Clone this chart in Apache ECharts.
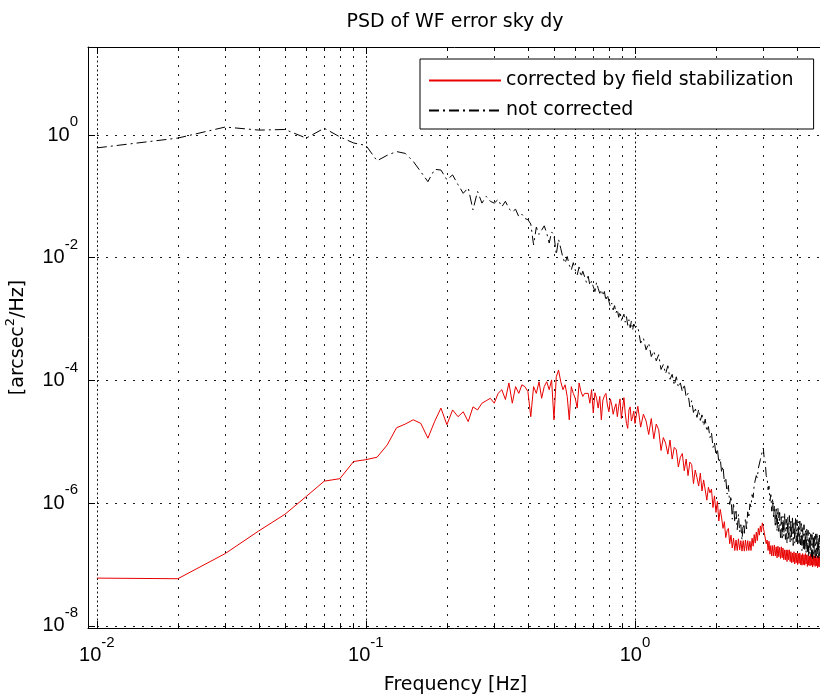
<!DOCTYPE html>
<html>
<head>
<meta charset="utf-8">
<title>PSD of WF error sky dy</title>
<script src="https://cdn.jsdelivr.net/npm/echarts@6/dist/echarts.min.js"></script>
<style>
  html, body { margin: 0; padding: 0; background: #fff; }
  #chart { width: 820px; height: 700px; }
</style>
</head>
<body>
<div id="chart"></div>
<script>
// ---- Spectrum data --------------------------------------------------------
// Frequency bins: 0.01 Hz resolution up to 1 Hz, 0.025 Hz bins from 1 to 5 Hz.
const lowBandStart = 0.01, lowBandStep = 0.01, lowBandCount = 100;
const highBandStart = 1.025, highBandStep = 0.025, highBandCount = 160;

// PSD values stored as log10 of arcsec^2/Hz.
const correctedLow = [
  -7.22,-7.23,-6.82,-6.45,-6.18,-5.89,-5.64,-5.60,-5.32,-5.29,
  -5.25,-5.05,-4.77,-4.71,-4.64,-4.70,-4.94,-4.67,-4.45,-4.72,
  -4.48,-4.59,-4.51,-4.67,-4.43,-4.48,-4.37,-4.33,-4.29,-4.37,
  -4.21,-4.15,-4.31,-4.04,-4.37,-4.10,-4.21,-4.07,-4.10,-4.18,
  -4.59,-4.10,-4.21,-4.02,-4.29,-4.10,-4.02,-4.15,-3.99,-4.64,
  -3.94,-3.83,-4.02,-4.15,-4.07,-4.26,-4.64,-4.10,-4.21,-4.29,
  -4.45,-4.04,-4.18,-4.26,-4.21,-4.18,-4.21,-4.37,-4.15,-4.53,
  -4.20,-4.29,-4.45,-4.26,-4.64,-4.32,-4.25,-4.21,-4.40,-4.51,
  -4.30,-4.40,-4.55,-4.45,-4.38,-4.59,-4.42,-4.30,-4.62,-4.62,
  -4.28,-4.53,-4.70,-4.78,-4.48,-4.43,-4.66,-4.59,-4.50,-4.70
];
const correctedHigh = [
  -4.42,-4.76,-4.55,-4.66, -4.88,-4.62,-4.95,-4.71, -4.80,-5.14,-4.93,-5.02,
  -5.20,-4.97,-5.28,-5.09, -5.13,-5.41,-5.25,-5.19, -5.47,-5.28,-5.55,-5.33,
  -5.37,-5.68,-5.46,-5.58, -5.72,-5.51,-5.80,-5.62, -5.65,-5.95,-5.74,-5.83,
  -5.77,-6.07,-5.88,-6.15, -5.97,-6.29,-6.10,-6.24, -6.41,-6.30,-6.56,-6.45,
  -6.41,-6.66,-6.52,-6.73, -6.57,-6.77,-6.60,-6.77, -6.58,-6.76,-6.61,-6.78,
  -6.61,-6.78,-6.60,-6.77, -6.61,-6.77,-6.62,-6.77, -6.57,-6.70,-6.51,-6.65,
  -6.47,-6.61,-6.41,-6.52, -6.37,-6.47,-6.32,-6.34, -6.48,-6.45,-6.66,-6.60,
  -6.77,-6.62,-6.83,-6.69, -6.86,-6.69,-6.86,-6.68, -6.86,-6.71,-6.89,-6.70,
  -6.87,-6.72,-6.90,-6.71, -6.89,-6.73,-6.92,-6.76, -6.92,-6.76,-6.95,-6.76,
  -6.92,-6.76,-6.95,-6.79, -6.97,-6.81,-6.96,-6.79, -6.99,-6.81,-6.97,-6.81,
  -7.00,-6.82,-6.98,-6.81, -7.00,-6.84,-7.01,-6.82, -7.00,-6.84,-7.01,-6.82,
  -6.99,-6.84,-7.03,-6.84, -7.01,-6.86,-7.02,-6.83, -7.01,-6.85,-7.04,-6.85,
  -7.01,-6.86,-7.03,-6.84, -7.02,-6.87,-7.05,-6.86, -7.03,-6.87,-7.04,-6.85,
  -7.02,-6.87,-7.04,-6.88
];
const uncorrectedLow = [
  -0.21,-0.05, 0.13, 0.08, 0.09,-0.05, 0.11,-0.03,-0.13,-0.17,
  -0.42,-0.33,-0.27,-0.30,-0.43,-0.60,-0.76,-0.56,-0.57,-0.73,
  -0.65,-0.81,-0.95,-0.86,-1.22,-0.92,-1.11,-1.00,-1.08,-1.11,
  -1.05,-1.17,-1.08,-1.20,-1.25,-1.21,-1.33,-1.29,-1.36,-1.38,
  -1.45,-1.79,-1.50,-1.62,-1.55,-1.48,-1.60,-1.76,-1.58,-1.63,
  -1.95,-1.70,-1.85,-2.00,-2.09,-1.98,-2.12,-2.20,-2.08,-2.20,
  -2.28,-2.15,-2.31,-2.22,-2.31,-2.40,-2.30,-2.45,-2.38,-2.47,
  -2.55,-2.40,-2.50,-2.58,-2.52,-2.62,-2.55,-2.70,-2.60,-2.71,
  -2.80,-2.74,-2.85,-2.78,-2.90,-2.84,-2.97,-2.88,-3.02,-3.01,
  -2.92,-3.05,-2.96,-3.10,-3.01,-3.14,-3.03,-3.18,-3.08,-3.12
];
const uncorrectedHigh = [
  -3.12,-3.39,-3.31,-3.50, -3.39,-3.61,-3.52,-3.68, -3.58,-3.82,-3.74,-3.89,
  -3.76,-3.98,-3.90,-4.08, -3.94,-4.11,-4.04,-4.18, -4.06,-4.27,-4.21,-4.43,
  -4.33,-4.52,-4.44,-4.60, -4.47,-4.65,-4.56,-4.74, -4.63,-4.83,-4.75,-4.93,
  -4.85,-5.09,-5.01,-5.21, -5.11,-5.34,-5.27,-5.50, -5.40,-5.66,-5.58,-5.85,
  -5.71,-6.02,-5.88,-6.26, -5.99,-6.31,-6.13,-6.43, -6.18,-6.47,-6.35,-6.60,
  -6.34,-6.49,-6.24,-6.42, -6.14,-6.24,-6.01,-6.06, -5.86,-5.91,-5.70,-5.73,
  -5.55,-5.59,-5.43,-5.45, -5.29,-5.32,-5.15,-5.10, -5.29,-5.33,-5.55,-5.59,
  -5.78,-5.72,-5.96,-5.86, -6.13,-5.92,-6.25,-6.04, -6.39,-6.06,-6.46,-6.08,
  -6.46,-6.15,-6.56,-6.22, -6.60,-6.21,-6.54,-6.16, -6.59,-6.26,-6.65,-6.21,
  -6.58,-6.20,-6.63,-6.26, -6.61,-6.21,-6.69,-6.29, -6.65,-6.24,-6.63,-6.27,
  -6.69,-6.30,-6.68,-6.29, -6.68,-6.33,-6.77,-6.38, -6.74,-6.35,-6.78,-6.43,
  -6.81,-6.42,-6.79,-6.44, -6.87,-6.48,-6.83,-6.47, -6.87,-6.51,-6.90,-6.48,
  -6.87,-6.53,-6.89,-6.50, -6.86,-6.48,-6.89,-6.55, -6.91,-6.52,-6.86,-6.50,
  -6.88,-6.53,-6.90,-6.56
];

// Axis decades (log10) carrying labels
const xLabelDecades = [-2, -1, 0];
const yLabelDecades = [0, -2, -4, -6, -8];

const titleText = 'PSD of WF error sky dy';
const xAxisTitle = 'Frequency [Hz]';
const seriesNames = ['corrected by field stabilization', 'not corrected'];

// ---- Build the log-log plot on log10-transformed value axes ---------------
const X_MIN = -2.033, X_MAX = Math.log10(5);
const Y_MIN = -8.033, Y_MAX = 1.434;

function binFreqs(start, step, count) {
  const out = [];
  for (let i = 0; i < count; i++) out.push(+(start + i * step).toFixed(4));
  return out;
}
const freqs = binFreqs(lowBandStart, lowBandStep, lowBandCount)
  .concat(binFreqs(highBandStart, highBandStep, highBandCount));

function toPoints(low, high) {
  const vals = low.concat(high);
  return vals.map((v, i) => [Math.log10(freqs[i]), v]);
}

// minor ticks at 2..9 x 10^n inside the visible frequency range
const xMinor = [];
for (let n = -3; n <= 0; n++) {
  for (let k = 2; k <= 9; k++) {
    const p = Math.log10(k) + n;
    if (p > X_MIN && p < X_MAX - 1e-6) xMinor.push(p);
  }
}

const TICK_FONT = '"Liberation Sans", Arial, sans-serif';
const TEXT_FONT = '"DejaVu Sans", sans-serif';
const tickRich = {
  b: { fontFamily: TICK_FONT, fontSize: 20, color: '#000' },
  s: { fontFamily: TICK_FONT, fontSize: 15, color: '#000', padding: [0, 0, 26, 0] }
};
const powerLabel = v => '{b|10}{s|' + Math.round(v) + '}';

const majorGrid = { show: true, lineStyle: { color: '#1a1a1a', width: 1, type: [2, 2.5] } };
const minorGrid = { show: true, lineStyle: { color: '#1a1a1a', width: 1, type: [2, 7] } };
const hGrid = { show: true, lineStyle: { color: '#1a1a1a', width: 1, type: [2, 7] } };
const blackLine = { color: '#000', width: 1 };

function xAxisDef(position, ticks, tickLen, withLine, labels, split) {
  return {
    type: 'value', position: position, min: X_MIN, max: X_MAX,
    axisLine: { show: withLine, onZero: false, lineStyle: blackLine },
    axisTick: { show: true, inside: true, length: tickLen, customValues: ticks, lineStyle: blackLine },
    axisLabel: labels ? {
      show: true, customValues: xLabelDecades, formatter: powerLabel, margin: 7, rich: tickRich
    } : { show: false },
    splitLine: split || { show: false }
  };
}

const chart = echarts.init(document.getElementById('chart'), null, { renderer: 'canvas' });
chart.setOption({
  animation: false,
  backgroundColor: '#fff',
  grid: { left: 88, top: 47, width: 735, height: 581, containLabel: false, outerBoundsMode: 'none' },
  graphic: [{
    type: 'text', x: 455, y: 22, silent: true,
    style: {
      text: titleText, font: '19px "DejaVu Sans", sans-serif', fill: '#000',
      align: 'center', verticalAlign: 'middle', textAlign: 'center', textVerticalAlign: 'middle'
    }
  }],
  legend: {
    orient: 'vertical', left: 420, top: 59,
    padding: [12, 20, 9, 8], itemWidth: 72, itemHeight: 14, itemGap: 11,
    borderColor: '#000', borderWidth: 1, borderRadius: 0, backgroundColor: '#fff',
    itemStyle: { opacity: 0 },
    textStyle: { fontFamily: TEXT_FONT, fontSize: 19, color: '#000' },
    data: seriesNames
  },
  xAxis: [
    Object.assign(xAxisDef('bottom', xLabelDecades, 7, true, true, majorGrid), {
      name: xAxisTitle, nameLocation: 'middle', nameGap: 48, nameMoveOverlap: false,
      nameTextStyle: { fontFamily: TEXT_FONT, fontSize: 19, color: '#000' }
    }),
    xAxisDef('bottom', xMinor, 4, false, false, minorGrid),
    xAxisDef('top', xLabelDecades, 7, true, false, null),
    xAxisDef('top', xMinor, 4, false, false, null)
  ],
  yAxis: [{
    type: 'value', position: 'left', min: Y_MIN, max: Y_MAX,
    name: '[arcsec{s|2}/Hz]', nameLocation: 'middle', nameGap: 55, nameRotate: 90, nameMoveOverlap: false,
    nameTextStyle: {
      fontFamily: TEXT_FONT, fontSize: 19, color: '#000',
      rich: { s: { fontFamily: TEXT_FONT, fontSize: 13, color: '#000', padding: [0, 0, 16, 0] } }
    },
    axisLine: { show: true, onZero: false, lineStyle: blackLine },
    axisTick: { show: true, inside: true, length: 7, customValues: yLabelDecades, lineStyle: blackLine },
    axisLabel: { show: true, customValues: yLabelDecades, formatter: powerLabel, margin: 10, rich: tickRich },
    splitLine: hGrid
  }],
  series: [
    {
      name: seriesNames[0], type: 'line', xAxisIndex: 0, yAxisIndex: 0,
      data: toPoints(correctedLow, correctedHigh),
      symbol: 'none', showSymbol: false, silent: true,
      lineStyle: { color: '#e80000', width: 1 }, itemStyle: { color: '#e80000' }
    },
    {
      name: seriesNames[1], type: 'line', xAxisIndex: 0, yAxisIndex: 0,
      data: toPoints(uncorrectedLow, uncorrectedHigh),
      symbol: 'none', showSymbol: false, silent: true,
      lineStyle: { color: '#000', width: 1, type: [10, 4, 2, 4] }, itemStyle: { color: '#000' }
    }
  ]
});
</script>
</body>
</html>
